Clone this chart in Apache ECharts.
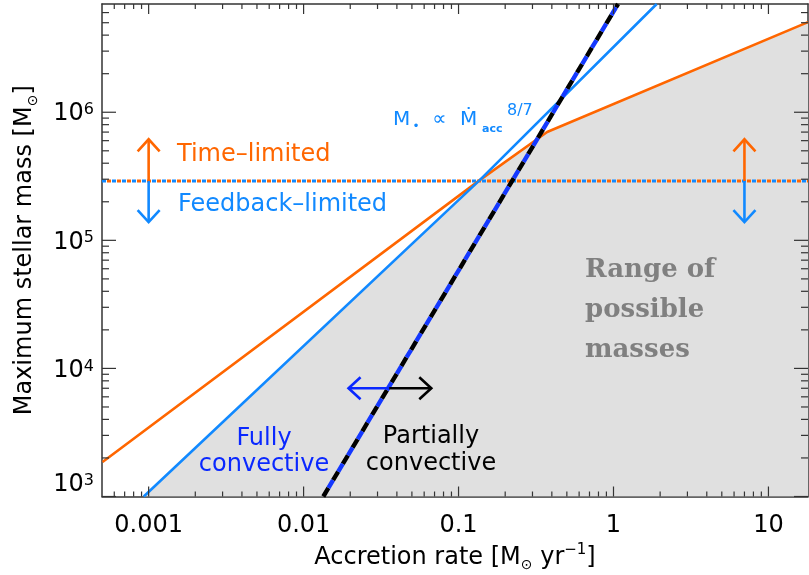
<!DOCTYPE html>
<html><head><meta charset="utf-8">
<script src="https://cdn.jsdelivr.net/npm/echarts@6/dist/echarts.min.js"></script>
<style>html,body{margin:0;padding:0;background:#fff}#c{width:809px;height:575px}</style>
</head><body><div id="c"></div>
<script>
// axis ranges and ticks
const xMin = 5e-4, xMax = 18, yMin = 1e3, yMax = 7e6;
const xMajor = [0.001, 0.01, 0.1, 1, 10];
const xTickLabels = ['0.001', '0.01', '0.1', '1', '10'];
const yMajor = [1e3, 1e4, 1e5, 1e6];
const yTickExp = ['3', '4', '5', '6'];

// Time-limited maximum mass (orange)
const timeX = [0.000504, 0.137, 0.373, 18];
const timeY = [1860, 2.95e5, 7.01e5, 5.05e6];
// Feedback-limited maximum mass, M ∝ Mdot^(8/7) (light blue)
const feedX = [9.3e-4, 0.137, 1.9];
const feedY = [1000, 2.95e5, 7e6];
// Fully / partially convective boundary (dashed)
const convX = [0.0134, 1.07];
const convY = [1000, 7e6];
// Time-limited / feedback-limited separation (dotted)
const limitX = [5e-4, 18];
const limitY = [2.9e5, 2.9e5];
// Range of possible masses (shaded)
const rangeX = [9.3e-4, 0.137, 0.373, 18];
const rangeY = [1000, 2.95e5, 7.01e5, 5.05e6];

const ORANGE = '#ff6600', LBLUE = '#1189ff', DBLUE = '#0a28ff', AX = '#333';
const FONT = '"DejaVu Sans", sans-serif';

function minorVals(lo, hi) {
  const out = [];
  for (let d = -5; d <= 7; d++) for (let k = 2; k <= 9; k++) {
    const v = k * Math.pow(10, d);
    if (v > lo * 1.0001 && v < hi * 0.9999) out.push(v);
  }
  return out;
}
const zip = (a, b) => a.map((v, i) => [v, b[i]]);
const idxOf = (arr, v) => arr.findIndex(m => Math.abs(Math.log10(m) - Math.log10(v)) < 1e-6);

const baseAx = {
  type: 'log', logBase: 10,
  axisLine: { show: true, onZero: false, lineStyle: { color: AX, width: 1.5 } },
  axisTick: { show: false },
  splitLine: { show: false }, minorTick: { show: false }, minorSplitLine: { show: false }
};

const xAxes = [
  Object.assign({}, baseAx, {
    min: xMin, max: xMax, position: 'bottom',
    axisLabel: { show: true, customValues: xMajor, margin: 17, color: '#000', fontSize: 24, fontFamily: FONT,
      formatter: v => { const i = idxOf(xMajor, v); return i >= 0 ? xTickLabels[i] : ''; } },
    name: 'Accretion rate [M{sub|⊙} yr{sup|−1}]', nameLocation: 'middle', nameGap: 46,
    nameTextStyle: { fontSize: 24, fontFamily: FONT, color: '#000', lineHeight: 30,
      rich: { sub: { fontSize: 14, fontFamily: FONT, color: '#000', verticalAlign: 'bottom', lineHeight: 14 },
              sup: { fontSize: 15, fontFamily: FONT, color: '#000', verticalAlign: 'top', lineHeight: 15 } } }
  }),
  Object.assign({}, baseAx, { min: xMin, max: xMax, position: 'top', axisLabel: { show: false } })
];
const yAxes = [
  Object.assign({}, baseAx, {
    min: yMin, max: yMax, position: 'left',
    axisLabel: { show: true, customValues: yMajor, margin: 8, color: '#000', fontFamily: FONT,
      verticalAlignMinLabel: 'bottom',
      formatter: v => { const i = idxOf(yMajor, v); return i < 0 ? '' : '{b|10}{s|' + yTickExp[i] + '}'; },
      rich: {
        b: { fontSize: 24, fontFamily: FONT, color: '#000', lineHeight: 28, padding: [4, 0, 0, 0] },
        s: { fontSize: 16, fontFamily: FONT, color: '#000', verticalAlign: 'top', lineHeight: 16, padding: [4, 0, 0, 0] }
      } },
    name: 'Maximum stellar mass [M{sub|⊙}]', nameLocation: 'middle', nameGap: 62,
    nameTextStyle: { fontSize: 24, fontFamily: FONT, color: '#000', lineHeight: 30,
      rich: { sub: { fontSize: 14, fontFamily: FONT, color: '#000', verticalAlign: 'bottom', lineHeight: 14 } } }
  }),
  Object.assign({}, baseAx, { min: yMin, max: yMax, position: 'right', axisLabel: { show: false } })
];

const chart = echarts.init(document.getElementById('c'), null, { renderer: 'canvas' });
chart.setOption({
  animation: false,
  backgroundColor: '#fff',
  grid: { left: 102, right: 1, top: 4, bottom: 78.5, containLabel: false, outerBoundsMode: 'none' },
  xAxis: xAxes,
  yAxis: yAxes,
  series: [
    { type: 'line', name: 'range', data: zip(rangeX, rangeY), symbol: 'none', silent: true, z: 1,
      lineStyle: { width: 0, opacity: 0 }, areaStyle: { color: '#e0e0e0', opacity: 1, origin: 'start' } },
    { type: 'line', name: 'limit-blue', data: zip(limitX, limitY), symbol: 'none', z: 3,
      lineStyle: { color: LBLUE, width: 3, type: [4, 6], dashOffset: 0 } },
    { type: 'line', name: 'limit-orange', data: zip(limitX, limitY), symbol: 'none', z: 3,
      lineStyle: { color: ORANGE, width: 3, type: [4, 6], dashOffset: 5 } },
    { type: 'line', name: 'time', data: zip(timeX, timeY), symbol: 'none', z: 4,
      lineStyle: { color: ORANGE, width: 2.6 } },
    { type: 'line', name: 'feedback', data: zip(feedX, feedY), symbol: 'none', z: 4,
      lineStyle: { color: LBLUE, width: 2.6 } },
    { type: 'line', name: 'conv-black', data: zip(convX, convY), symbol: 'none', z: 5,
      lineStyle: { color: '#000', width: 4.4, type: [10, 9], dashOffset: 0 } },
    { type: 'line', name: 'conv-blue', data: zip(convX, convY), symbol: 'none', z: 6,
      lineStyle: { color: '#1438ff', width: 4.4, type: [9, 10], dashOffset: 9 } }
  ]
});

// ticks and annotations placed through the axes' own scales
const px = (x, y) => chart.convertToPixel({ xAxisIndex: 0, yAxisIndex: 0 }, [x, y]);
const g = [];
const pBL = px(xMin, yMin), pTR = px(xMax, yMax);
const gLeft = pBL[0], gBottom = pBL[1], gRight = pTR[0], gTop = pTR[1];
function tick(x1, y1, x2, y2) {
  g.push({ type: 'line', z: 30, silent: true, shape: { x1: x1, y1: y1, x2: x2, y2: y2 }, style: { stroke: AX, lineWidth: 1.2 } });
}
xMajor.forEach(v => { const x = px(v, yMin)[0]; tick(x, gBottom, x, gBottom - 10); tick(x, gTop, x, gTop + 10); });
minorVals(xMin, xMax).forEach(v => { const x = px(v, yMin)[0]; tick(x, gBottom, x, gBottom - 5); tick(x, gTop, x, gTop + 5); });
yMajor.forEach(v => { const y = px(xMin, v)[1]; tick(gLeft, y, gLeft + 14, y); tick(gRight, y, gRight - 14, y); });
minorVals(yMin, yMax).forEach(v => { const y = px(xMin, v)[1]; tick(gLeft, y, gLeft + 7, y); tick(gRight, y, gRight - 7, y); });

function arrow(from, to, color) {
  const a = px(from[0], from[1]), b = px(to[0], to[1]);
  const dx = b[0] - a[0], dy = b[1] - a[1], L = Math.hypot(dx, dy);
  const ux = dx / L, uy = dy / L, h = 12, w = 11;
  const p1 = [b[0] - ux * h - uy * w, b[1] - uy * h + ux * w];
  const p2 = [b[0] - ux * h + uy * w, b[1] - uy * h - ux * w];
  g.push({ type: 'line', z: 20, shape: { x1: a[0], y1: a[1], x2: b[0], y2: b[1] }, style: { stroke: color, lineWidth: 2.6 } });
  g.push({ type: 'polyline', z: 20, shape: { points: [p1, b, p2] }, style: { stroke: color, lineWidth: 2.6, fill: null } });
}
function txt(x, y, s, font, color, align, vAlign, extra) {
  g.push({ type: 'text', z: 25, x: x, y: y,
    style: Object.assign({ text: s, font: font, fill: color, align: align, verticalAlign: vAlign,
      textAlign: align, textVerticalAlign: vAlign }, extra || {}) });
}
const F24 = '24px ' + FONT;
arrow([0.001, 2.9e5], [0.001, 6.15e5], ORANGE);
arrow([0.001, 2.9e5], [0.001, 1.39e5], LBLUE);
arrow([7, 2.9e5], [7, 6.15e5], ORANGE);
arrow([7, 2.9e5], [7, 1.39e5], LBLUE);
arrow([0.0357, 7.0e3], [0.0195, 7.0e3], DBLUE);
arrow([0.0357, 7.0e3], [0.0667, 7.0e3], '#000');
txt(177, 154.5, 'Time–limited', F24, ORANGE, 'left', 'middle');
txt(178, 205, 'Feedback–limited', F24, LBLUE, 'left', 'middle');
txt(264, 451.5, 'Fully\nconvective', F24, DBLUE, 'center', 'middle', { lineHeight: 26 });
txt(431, 450, 'Partially\nconvective', F24, '#000', 'center', 'middle', { lineHeight: 27 });
txt(585, 310, 'Range of\npossible\nmasses', 'bold 26px "DejaVu Serif", serif', '#808080', 'left', 'middle', { lineHeight: 40 });
txt(393, 119.5, 'M', '20px ' + FONT, LBLUE, 'left', 'middle');
txt(416, 127, '•', '12px ' + FONT, LBLUE, 'center', 'middle');
txt(439.5, 119.5, '∝', '20px ' + FONT, LBLUE, 'center', 'middle');
txt(460, 119.5, 'Ṁ', '20px ' + FONT, LBLUE, 'left', 'middle');
txt(482, 129, 'acc', 'bold 11px ' + FONT, LBLUE, 'left', 'middle');
txt(507, 111, '8/7', '16px ' + FONT, LBLUE, 'left', 'middle');
chart.setOption({ graphic: g });
</script>
</body></html>
